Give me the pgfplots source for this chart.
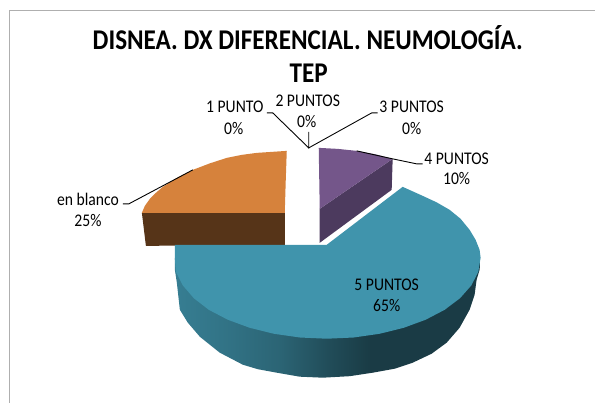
\documentclass[border=0pt]{standalone}
\usepackage{pgfplots}
\pgfplotsset{compat=1.18}
\usepackage{fontspec}
\setmainfont{Carlito}
\newfontfamily\narrowfont[FakeStretch=0.88]{Carlito}
\definecolor{teal1}{RGB}{64,148,172}
\definecolor{orange1}{RGB}{214,130,60}
\definecolor{brown1}{RGB}{86,52,24}
\definecolor{purple1}{RGB}{116,86,138}
\definecolor{purple2}{RGB}{76,58,94}
\definecolor{frameg}{RGB}{175,175,175}
\pgfdeclarehorizontalshading{sideteal}{100bp}{
 color(0bp)=(teal1!85!black);
 color(25bp)=(teal1!85!black);
 color(33bp)=(teal1!78!black);
 color(42bp)=(teal1!68!black);
 color(50bp)=(teal1!52!black);
 color(57bp)=(teal1!40!black);
 color(100bp)=(teal1!40!black)}
\tikzset{lab/.style={align=center,text=black,inner sep=0pt,font=\narrowfont\fontsize{17.8bp}{20bp}\selectfont},
 ttl/.style={align=center,text=black,inner sep=0pt,anchor=base,font=\narrowfont\fontsize{28.6bp}{30bp}\selectfont\bfseries}}
\begin{document}
\begin{tikzpicture}
\begin{axis}[
 width=595bp,height=403bp,scale only axis,
 xmin=0,xmax=595,ymin=0,ymax=403,y dir=reverse,
 hide axis,clip=false]
% page extent
\addplot[draw=none] coordinates {(0,0)(595,403)};
% frame
\addplot[frameg,line width=1pt] coordinates {(10,403)(10,10.5)(595,10.5)};
% orange slice
\addplot[draw=none,fill=brown1] coordinates {(142,213)(285,213)(285,245.5)(146,246)} -- cycle;
\addplot[draw=none,fill=orange1] coordinates {(142,213)(145,206)(150,199)(156,193)(163,187)(177,178)(193,170)(210,163.5)(227,158)(242,155)(257,153)(272,152)(287,151)(286,180)(285,213)} -- cycle;
% purple slice
\addplot[draw=none,fill=purple2] coordinates {(393,159)(392,190)(320,243)(320,209)} -- cycle;
\addplot[draw=none,fill=purple1] coordinates {(319,148)(338,149)(357,151)(376,154.5)(393,159)(320,209)} -- cycle;
% teal slice
\addplot[draw=none,shade,shading=sideteal] coordinates {(175,258)(175,270)(177,283)(180,310)(188,323)(200,337)(220,353)(243,365)(258,369.5)(277,373)(300,377)(323,378)(350,376.5)(373,373)(395,369)(413,363)(432,354)(447,343)(460,328)(470,310)(475,295)(477,280)(480,270)(481,258)(327,258)} -- cycle;
\addplot[draw=none,fill=teal1] coordinates {(327,245)(403,187)(423,196)(437,202.5)(450,210)(461,219)(470,230)(476,240)(480,250)(481,258)(478.7,272.1)(471.7,285.7)(460.4,298.5)(445,310.1)(426,320)(404,328.1)(379.7,334.1)(353.7,337.8)(327,339)(300.3,337.8)(274.3,334.1)(250,328.1)(228,320)(209,310.1)(194,298.5)(183,285.7)(176,272)(175,258)(175,245)} -- cycle;
% leader lines
\addplot[black,line width=0.9pt] coordinates {(267,113)(273,113)(309,148)(309,132)};
\addplot[black,line width=0.9pt] coordinates {(309,148)(372,113)(378,113)};
\addplot[black,line width=0.9pt] coordinates {(357,151)(393,159)(417,164)(423,164)};
\addplot[black,line width=0.9pt] coordinates {(123,204)(129,204)(193,170)};
% labels
\node[ttl] at (axis cs:308,50) {DISNEA. DX DIFERENCIAL. NEUMOLOGÍA.};
\node[ttl] at (axis cs:309,83) {TEP};
\node[lab] at (axis cs:235,107) {1 PUNTO};
\node[lab] at (axis cs:234,129) {0\%};
\node[lab] at (axis cs:308,101) {2 PUNTOS};
\node[lab] at (axis cs:307,122) {0\%};
\node[lab] at (axis cs:412,107) {3 PUNTOS};
\node[lab] at (axis cs:412,129) {0\%};
\node[lab] at (axis cs:457,159) {4 PUNTOS};
\node[lab] at (axis cs:457,179) {10\%};
\node[lab] at (axis cs:387,285) {5 PUNTOS};
\node[lab] at (axis cs:387,306) {65\%};
\node[lab] at (axis cs:88,200) {en blanco};
\node[lab] at (axis cs:88,221) {25\%};
\end{axis}
\end{tikzpicture}
\end{document}
